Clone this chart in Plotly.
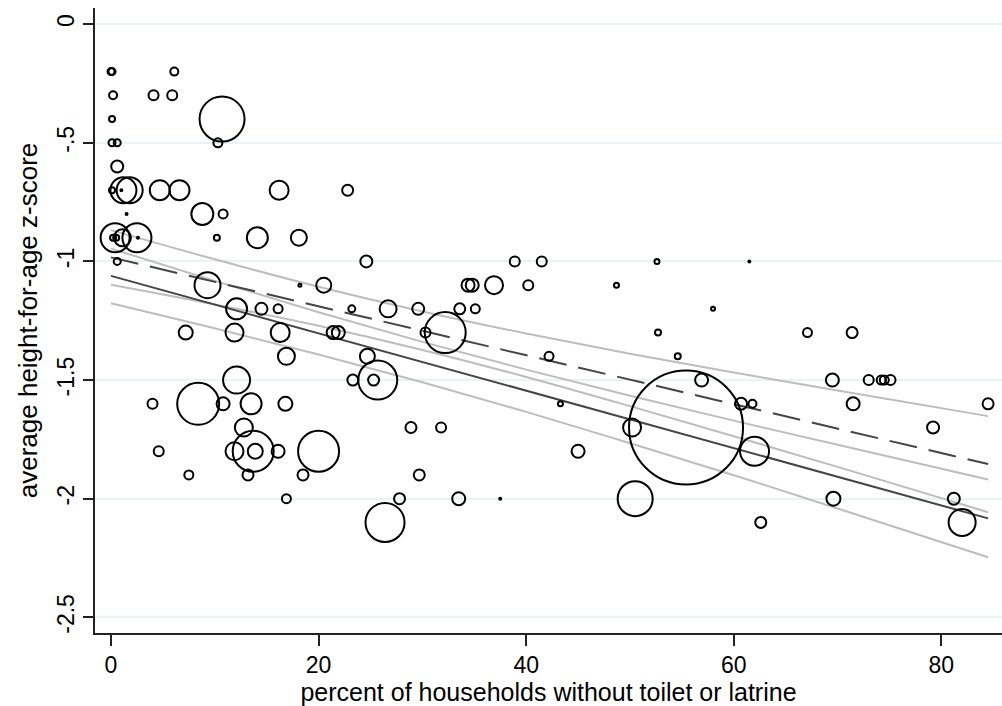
import plotly.graph_objects as go

# ---- scatter data: % households without toilet, avg height-for-age z, bubble diameter (pop. weight) ----
pct_no_toilet = [
    0.0, 0.1, 6.1,
    0.2, 4.1, 5.9,
    0.1, 10.7,
    0.1, 0.6, 10.3,
    0.6,
    0.1, 1.0, 1.2, 1.8, 4.7, 6.6, 16.2, 22.8,
    1.5, 8.8, 10.8,
    0.2, 0.5, 0.4, 1.1, 2.5, 2.6, 10.2, 14.1, 18.1,
    0.6, 24.6, 38.9, 41.5, 52.6, 61.5,
    9.3, 18.2, 20.5, 34.4, 34.8, 36.9, 40.2, 48.7,
    12.1, 14.5, 16.1, 23.2, 26.7, 29.6, 33.6, 35.1, 58.0,
    7.2, 11.9, 16.3, 21.4, 21.9, 30.3, 32.2, 52.7, 67.1, 71.4,
    16.9, 24.7, 42.2, 54.6,
    12.1, 23.3, 25.3, 25.7, 56.9, 69.5, 73.0, 74.2, 74.5, 75.1,
    4.0, 8.4, 10.8, 13.5, 16.8, 43.3, 60.7, 61.8, 71.5, 84.5,
    12.8, 28.9, 31.8, 50.2, 55.4, 79.2,
    4.6, 11.9, 13.7, 13.9, 16.1, 20.0, 45.0, 62.0,
    7.5, 13.2, 18.5, 29.7,
    16.9, 27.8, 33.5, 37.5, 50.5, 69.6, 81.2,
    26.4, 62.6, 82.0,
]
haz_score = [
    -0.2, -0.2, -0.2,
    -0.3, -0.3, -0.3,
    -0.4, -0.4,
    -0.5, -0.5, -0.5,
    -0.6,
    -0.7, -0.7, -0.7, -0.7, -0.7, -0.7, -0.7, -0.7,
    -0.8, -0.8, -0.8,
    -0.9, -0.9, -0.9, -0.9, -0.9, -0.9, -0.9, -0.9, -0.9,
    -1.0, -1.0, -1.0, -1.0, -1.0, -1.0,
    -1.1, -1.1, -1.1, -1.1, -1.1, -1.1, -1.1, -1.1,
    -1.2, -1.2, -1.2, -1.2, -1.2, -1.2, -1.2, -1.2, -1.2,
    -1.3, -1.3, -1.3, -1.3, -1.3, -1.3, -1.3, -1.3, -1.3, -1.3,
    -1.4, -1.4, -1.4, -1.4,
    -1.5, -1.5, -1.5, -1.5, -1.5, -1.5, -1.5, -1.5, -1.5, -1.5,
    -1.6, -1.6, -1.6, -1.6, -1.6, -1.6, -1.6, -1.6, -1.6, -1.6,
    -1.7, -1.7, -1.7, -1.7, -1.7, -1.7,
    -1.8, -1.8, -1.8, -1.8, -1.8, -1.8, -1.8, -1.8,
    -1.9, -1.9, -1.9, -1.9,
    -2.0, -2.0, -2.0, -2.0, -2.0, -2.0, -2.0,
    -2.1, -2.1, -2.1,
]
bubble = [
    7, 7, 8,
    8, 10, 10,
    6, 45,
    7, 7, 9,
    12,
    6, 2, 26, 26, 20, 20, 19, 11,
    2, 22, 9,
    6, 6, 29, 17, 29, 2, 6, 21, 16,
    7, 12, 10, 10, 5, 2,
    26, 3, 15, 13, 13, 18, 10, 5,
    21, 12, 9, 7, 17, 12, 11, 9, 4,
    14, 18, 19, 13, 13, 10, 41, 6, 9, 11,
    17, 15, 9, 6,
    27, 11, 11, 39, 13, 13, 10, 9, 9, 10,
    10, 42, 13, 21, 14, 5, 12, 8, 13, 11,
    18, 11, 10, 18, 114, 12,
    10, 18, 41, 15, 13, 41, 13, 29,
    9, 11, 11, 11,
    9, 11, 13, 2, 35, 14, 12,
    39, 11, 27,
]

# ---- fitted lines and confidence bands ----
fit_x = [0, 10, 20, 30, 40, 50, 60, 70, 84.5]
fit_solid = [-1.061, -1.182, -1.303, -1.424, -1.545, -1.666, -1.786, -1.907, -2.083]
ci_solid_hi = [-0.946, -1.082, -1.214, -1.339, -1.456, -1.566, -1.671, -1.773, -1.919]
ci_solid_lo = [-1.176, -1.282, -1.392, -1.509, -1.634, -1.766, -1.901, -2.041, -2.247]
fit_dashed = [-0.983, -1.086, -1.189, -1.292, -1.395, -1.499, -1.602, -1.705, -1.854]
ci_dashed_hi = [-0.868, -0.991, -1.107, -1.211, -1.304, -1.389, -1.468, -1.544, -1.652]
ci_dashed_lo = [-1.098, -1.181, -1.271, -1.373, -1.487, -1.610, -1.737, -1.866, -2.057]

y_ticks = [0, -0.5, -1, -1.5, -2, -2.5]
y_ticktext = ["0", "-.5", "-1", "-1.5", "-2", "-2.5"]
x_ticks = [0, 20, 40, 60, 80]

FONT = "Liberation Sans, Arial, Helvetica, sans-serif"
CI_GRAY = "#BDBDBD"
FIT_DARK = "#454545"

fig = go.Figure()

for band in (ci_solid_hi, ci_solid_lo, ci_dashed_hi, ci_dashed_lo):
    fig.add_trace(go.Scatter(x=fit_x, y=band, mode="lines",
                             line=dict(color=CI_GRAY, width=2, shape="spline"),
                             hoverinfo="skip"))

fig.add_trace(go.Scatter(x=fit_x, y=fit_solid, mode="lines",
                         line=dict(color=FIT_DARK, width=2)))
fig.add_trace(go.Scatter(x=fit_x, y=fit_dashed, mode="lines",
                         line=dict(color=FIT_DARK, width=2, dash="28px,12px")))

fig.add_trace(go.Scatter(
    x=pct_no_toilet, y=haz_score, mode="markers",
    marker=dict(symbol="circle-open", size=bubble, color="black", opacity=1,
                line=dict(color="black", width=2)),
))

fig.update_layout(
    width=1002, height=706,
    margin=dict(l=95, r=0, t=8, b=73),
    paper_bgcolor="white", plot_bgcolor="white",
    showlegend=False,
    font=dict(family=FONT, color="black", size=23),
    xaxis=dict(
        range=[-1.54, 85.84], tickvals=x_ticks,
        ticks="outside", ticklen=11, tickwidth=1.5, tickcolor="#222",
        showline=True, linecolor="#222", linewidth=1.5,
        showgrid=False, zeroline=False,
        tickfont=dict(size=23),
        title=dict(text="percent of households without toilet or latrine",
                   font=dict(size=25), standoff=8),
    ),
    yaxis=dict(
        range=[-2.566, 0.068], tickvals=y_ticks, ticktext=y_ticktext,
        tickangle=-90,
        ticks="outside", ticklen=10, tickwidth=1.5, tickcolor="#222",
        showline=True, linecolor="#222", linewidth=1.5,
        showgrid=True, gridcolor="#EAF2F3", gridwidth=2, zeroline=False,
        tickfont=dict(size=23),
        title=dict(text="average height-for-age z-score",
                   font=dict(size=26), standoff=8),
    ),
)

fig.write_html("out.html")
